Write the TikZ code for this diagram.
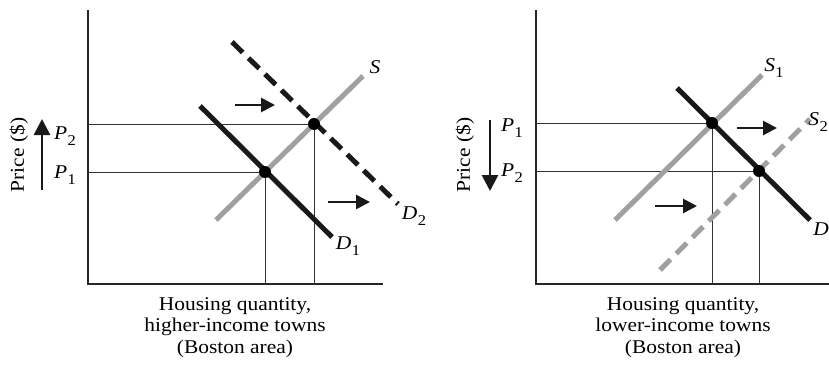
\documentclass[tikz,border=0pt]{standalone}
\usepackage{fontspec}
\setmainfont[FakeStretch=1.1]{Liberation Serif}
\usetikzlibrary{arrows.meta}
\definecolor{sgray}{RGB}{160,160,160}
\newcommand{\lbl}[2]{{\itshape #1}\kern0.02em\raisebox{-0.32em}{\fontsize{15}{15}\selectfont #2}}
\tikzset{
  axis/.style={line width=1.4pt, black!85},
  guide/.style={line width=0.9pt, black!80},
  supply/.style={line width=5pt, sgray},
  demand/.style={line width=5pt, black!90},
  shiftdash/.style={dash pattern=on 15pt off 8pt},
  shiftarrow/.style={line width=2.8pt, black!90, -{Triangle[length=14pt,width=14pt]}},
  pricearrow/.style={line width=2.8pt, black!90, -{Triangle[length=16pt,width=16pt]}},
  eq/.style={circle, fill=black, inner sep=0pt, minimum size=12pt},
  txt/.style={font=\fontsize{19.5}{21.5}\selectfont, inner sep=0pt},
  caption/.style={txt, align=center, anchor=north}
}
\begin{document}
\begin{tikzpicture}[x=1pt,y=-1pt]
\useasboundingbox (0,0) rectangle (829,367);
% ---------- left panel ----------
\coordinate (LO) at (88,284);
\coordinate (LT) at (88,10);
\coordinate (LR) at (383,284);
\draw[axis] (LT) -- (LO) -- (LR);
\coordinate (LE1) at (265,172);
\coordinate (LE2) at (314,124);
\coordinate (LP1) at (88,172);
\coordinate (LP2) at (88,124);
\coordinate (LQ1) at (265,284);
\coordinate (LQ2) at (314,284);
\draw[guide] (LP1) -- (LE1) -- (LQ1);
\draw[guide] (LP2) -- (LE2) -- (LQ2);
\coordinate (Sa) at (216,220);
\coordinate (Sb) at (363,76);
\draw[supply] (Sa) -- (Sb);
\coordinate (D1a) at (200,106);
\coordinate (D1b) at (332,237);
\draw[demand] (D1a) -- (D1b);
\coordinate (D2a) at (232,42);
\coordinate (D2b) at (398,204);
\draw[demand, shiftdash] (D2a) -- (D2b);
\node[eq] (le1) at (LE1) {};
\node[eq] (le2) at (LE2) {};
\node[txt] (lS) at (375,67) {\itshape S};
\node[txt] (lD1) at (348,246) {\lbl{D}{1}};
\node[txt] (lD2) at (414,216) {\lbl{D}{2}};
\coordinate (A1a) at (235,105);
\coordinate (A1b) at (275,105);
\draw[shiftarrow] (A1a) -- (A1b);
\coordinate (A2a) at (328,202);
\coordinate (A2b) at (370,202);
\draw[shiftarrow] (A2a) -- (A2b);
\node[txt] (lp2) at (65,136) {\lbl{P}{2}};
\node[txt] (lp1) at (65,175) {\lbl{P}{1}};
\coordinate (PAa) at (42,190);
\coordinate (PAb) at (42,119);
\draw[pricearrow] (PAa) -- (PAb);
\node[txt, rotate=90] (lprice) at (19,155) {Price (\$)};
\node[caption] (lcap) at (235,297) {Housing quantity,\\higher-income towns\\(Boston area)};
% ---------- right panel ----------
\coordinate (RO) at (536,284);
\coordinate (RT) at (536,10);
\coordinate (RR) at (829,284);
\draw[axis] (RT) -- (RO) -- (RR);
\coordinate (RE1) at (712,123);
\coordinate (RE2) at (759,171);
\coordinate (RP1) at (536,123);
\coordinate (RP2) at (536,171);
\coordinate (RQ1) at (712,284);
\coordinate (RQ2) at (759,284);
\draw[guide] (RP1) -- (RE1) -- (RQ1);
\draw[guide] (RP2) -- (RE2) -- (RQ2);
\coordinate (S1a) at (615,220);
\coordinate (S1b) at (762,75);
\draw[supply] (S1a) -- (S1b);
\coordinate (S2a) at (660,270);
\coordinate (S2b) at (810,119);
\draw[supply, shiftdash] (S2a) -- (S2b);
\coordinate (Da) at (677,88);
\coordinate (Db) at (810,220);
\draw[demand] (Da) -- (Db);
\node[eq] (re1) at (RE1) {};
\node[eq] (re2) at (RE2) {};
\node[txt] (rS1) at (774,68) {\lbl{S}{1}};
\node[txt, anchor=east] (rS2) at (828,122) {\lbl{S}{2}};
\node[txt] (rD) at (821,229) {\itshape D};
\coordinate (B1a) at (737,128);
\coordinate (B1b) at (777,128);
\draw[shiftarrow] (B1a) -- (B1b);
\coordinate (B2a) at (655,206);
\coordinate (B2b) at (697,206);
\draw[shiftarrow] (B2a) -- (B2b);
\node[txt] (rp1) at (512,128) {\lbl{P}{1}};
\node[txt] (rp2) at (512,173) {\lbl{P}{2}};
\coordinate (PBa) at (490,120);
\coordinate (PBb) at (490,191);
\draw[pricearrow] (PBa) -- (PBb);
\node[txt, rotate=90] (rprice) at (465,155) {Price (\$)};
\node[caption] (rcap) at (683,297) {Housing quantity,\\lower-income towns\\(Boston area)};
\end{tikzpicture}
\end{document}
